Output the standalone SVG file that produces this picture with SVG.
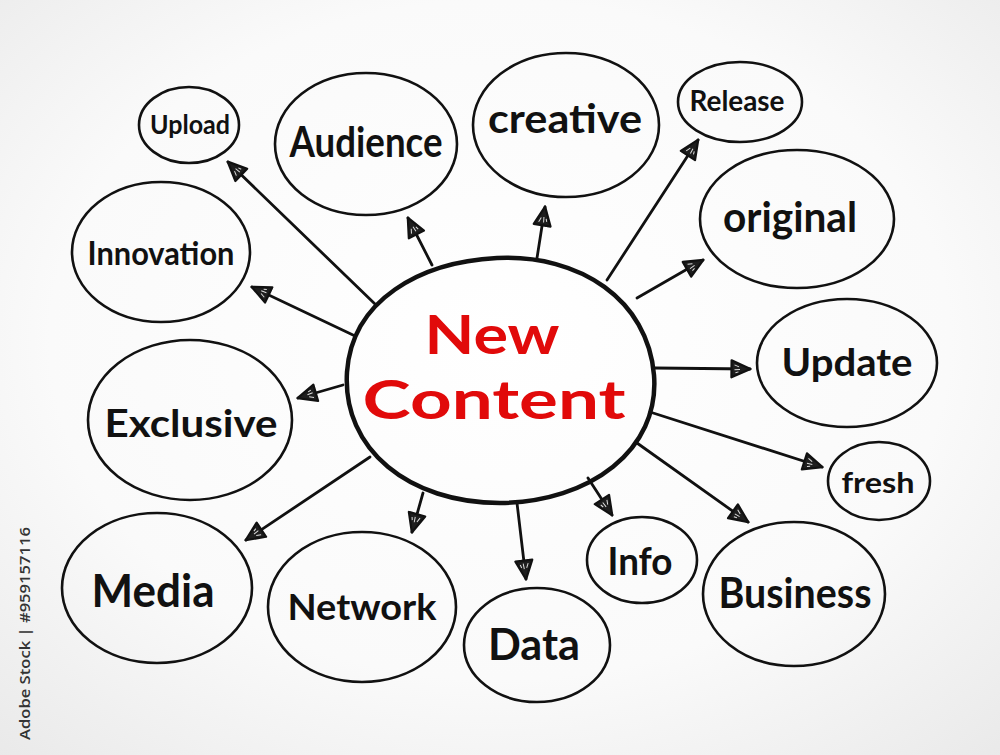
<svg xmlns="http://www.w3.org/2000/svg" width="1000" height="755" viewBox="0 0 1000 755">
<defs>
  <radialGradient id="bg" cx="50%" cy="45%" r="75%">
    <stop offset="0" stop-color="#ffffff"/>
    <stop offset="0.6" stop-color="#fafafa"/>
    <stop offset="1" stop-color="#e9e9e9"/>
  </radialGradient>
  <marker id="ah" viewBox="0 0 22 20" refX="20" refY="10" markerWidth="22" markerHeight="20" orient="auto" markerUnits="userSpaceOnUse">
    <path d="M1.5,1.5 L20.5,10 L1.5,18.5 Z" fill="#1e1e1e" stroke="#111" stroke-width="2.2" stroke-linejoin="round"/>
    <path d="M4.5,6 L9,8 M4.5,11 L10,10.5 M5.5,14 L8.5,13" stroke="#ddd" stroke-width="1" fill="none"/>
  </marker>
  <style>
    .node ellipse { fill: none; stroke: #111; stroke-width: 2.6; }
    .lbl { font-family: "Lato", "Open Sans", "Liberation Sans", sans-serif; font-weight: 700; fill: #111; text-anchor: middle; }
    .conn line { stroke: #111; stroke-width: 2.8; stroke-linecap: round; marker-end: url(#ah); }
    .center-lbl { font-family: "Lato", "Open Sans", "Liberation Sans", sans-serif; font-weight: 700; fill: #e10a0a; text-anchor: middle; }
  </style>
</defs>
<rect x="0" y="0" width="1000" height="755" fill="url(#bg)"/>

<g id="connectors" class="conn">
  <line x1="375" y1="304" x2="228" y2="162"/>
  <line x1="432" y1="265" x2="408" y2="218"/>
  <line x1="537" y1="258" x2="545" y2="207"/>
  <line x1="607" y1="280" x2="698" y2="140"/>
  <line x1="637" y1="298" x2="703" y2="260"/>
  <line x1="655" y1="368" x2="750" y2="369"/>
  <line x1="650" y1="412" x2="822" y2="467"/>
  <line x1="637" y1="443" x2="748" y2="522"/>
  <line x1="588" y1="478" x2="612" y2="515"/>
  <line x1="517" y1="503" x2="526" y2="579"/>
  <line x1="423" y1="493" x2="412" y2="532"/>
  <line x1="370" y1="457" x2="246" y2="540"/>
  <line x1="343" y1="385" x2="298" y2="398"/>
  <line x1="353" y1="335" x2="252" y2="287"/>
</g>

<g id="center" class="node">
  <path d="M347,372 C352,300 420,262 497,258 C580,254 648,300 654,375 C660,450 590,502 500,503 C410,503 342,450 347,372 Z" fill="none" stroke="#111" stroke-width="4.5"/>
  <text class="center-lbl" x="492" y="354" font-size="53" textLength="135" lengthAdjust="spacingAndGlyphs">New</text>
  <text class="center-lbl" x="494" y="419" font-size="53" textLength="263" lengthAdjust="spacingAndGlyphs">Content</text>
</g>

<g id="node-upload" class="node">
  <ellipse cx="189" cy="125" rx="50" ry="38"/>
  <text class="lbl" x="190" y="134" font-size="27" textLength="80" lengthAdjust="spacingAndGlyphs">Upload</text>
</g>
<g id="node-audience" class="node">
  <ellipse cx="366" cy="144" rx="91" ry="71"/>
  <text class="lbl" x="366" y="157" font-size="42" textLength="153" lengthAdjust="spacingAndGlyphs">Audience</text>
</g>
<g id="node-creative" class="node">
  <ellipse cx="566" cy="125" rx="93" ry="72"/>
  <text class="lbl" x="565" y="133" font-size="40" textLength="154" lengthAdjust="spacingAndGlyphs">creative</text>
</g>
<g id="node-release" class="node">
  <ellipse cx="740" cy="102" rx="62" ry="40"/>
  <text class="lbl" x="737" y="111" font-size="28" textLength="95" lengthAdjust="spacingAndGlyphs">Release</text>
</g>
<g id="node-original" class="node">
  <ellipse cx="797" cy="219" rx="97" ry="69"/>
  <text class="lbl" x="790" y="232" font-size="42" textLength="134" lengthAdjust="spacingAndGlyphs">original</text>
</g>
<g id="node-update" class="node">
  <ellipse cx="847" cy="363" rx="90" ry="64"/>
  <text class="lbl" x="847" y="376" font-size="38" textLength="131" lengthAdjust="spacingAndGlyphs">Update</text>
</g>
<g id="node-fresh" class="node">
  <ellipse cx="879" cy="481" rx="51" ry="39"/>
  <text class="lbl" x="878" y="493" font-size="28" textLength="73" lengthAdjust="spacingAndGlyphs">fresh</text>
</g>
<g id="node-business" class="node">
  <ellipse cx="794" cy="594" rx="91" ry="72"/>
  <text class="lbl" x="795" y="608" font-size="42" textLength="153" lengthAdjust="spacingAndGlyphs">Business</text>
</g>
<g id="node-info" class="node">
  <ellipse cx="642" cy="560" rx="55" ry="43"/>
  <text class="lbl" x="640" y="575" font-size="38" textLength="65" lengthAdjust="spacingAndGlyphs">Info</text>
</g>
<g id="node-data" class="node">
  <ellipse cx="537" cy="645" rx="73" ry="57"/>
  <text class="lbl" x="534" y="660" font-size="44" textLength="92" lengthAdjust="spacingAndGlyphs">Data</text>
</g>
<g id="node-network" class="node">
  <ellipse cx="362" cy="607" rx="94" ry="75"/>
  <text class="lbl" x="362" y="620" font-size="37" textLength="149" lengthAdjust="spacingAndGlyphs">Network</text>
</g>
<g id="node-media" class="node">
  <ellipse cx="157" cy="588" rx="95" ry="75"/>
  <text class="lbl" x="153" y="607" font-size="46" textLength="123" lengthAdjust="spacingAndGlyphs">Media</text>
</g>
<g id="node-exclusive" class="node">
  <ellipse cx="190" cy="420" rx="102" ry="80"/>
  <text class="lbl" x="191" y="437" font-size="38" textLength="173" lengthAdjust="spacingAndGlyphs">Exclusive</text>
</g>
<g id="node-innovation" class="node">
  <ellipse cx="161" cy="252" rx="89" ry="70"/>
  <text class="lbl" x="161" y="265" font-size="32" textLength="147" lengthAdjust="spacingAndGlyphs">Innovation</text>
</g>

<text x="30" y="740" transform="rotate(-90 30 740)" font-family="'Open Sans', 'Liberation Sans', sans-serif" font-size="15" font-weight="600" fill="#333" textLength="213" lengthAdjust="spacingAndGlyphs">Adobe Stock | #959157116</text>
</svg>
